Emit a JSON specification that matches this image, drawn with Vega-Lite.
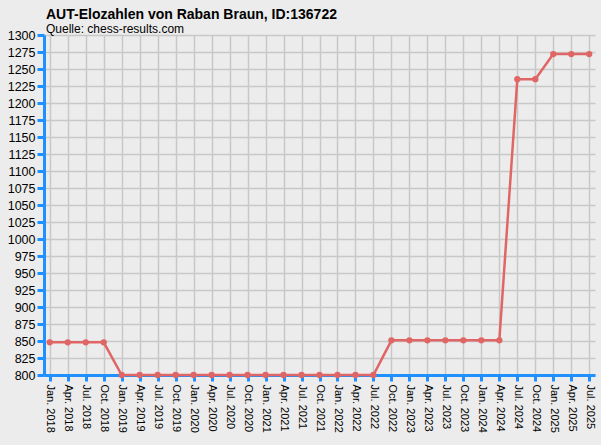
{
  "$schema": "https://vega.github.io/schema/vega-lite/v6.json",
  "autosize": {"type": "none"},
  "padding": {"left": 44, "top": 35, "right": 6, "bottom": 70},
  "width": 551,
  "height": 340,
  "background": "#ececec",
  "title": {
    "text": "AUT-Elozahlen von Raban Braun, ID:136722",
    "subtitle": "Quelle: chess-results.com",
    "anchor": "start",
    "frame": "group",
    "font": "Liberation Sans",
    "fontSize": 14,
    "fontWeight": "bold",
    "color": "#000000",
    "subtitleFont": "Liberation Sans",
    "subtitleFontSize": 12,
    "subtitleColor": "#000000",
    "subtitlePadding": 2,
    "offset": -6,
    "dx": 2
  },
  "data": {
    "values": [
      {"datum": "Jan. 2018", "elo": 848},
      {"datum": "Apr. 2018", "elo": 848},
      {"datum": "Jul. 2018", "elo": 848},
      {"datum": "Oct. 2018", "elo": 848},
      {"datum": "Jan. 2019", "elo": 800},
      {"datum": "Apr. 2019", "elo": 800},
      {"datum": "Jul. 2019", "elo": 800},
      {"datum": "Oct. 2019", "elo": 800},
      {"datum": "Jan. 2020", "elo": 800},
      {"datum": "Apr. 2020", "elo": 800},
      {"datum": "Jul. 2020", "elo": 800},
      {"datum": "Oct. 2020", "elo": 800},
      {"datum": "Jan. 2021", "elo": 800},
      {"datum": "Apr. 2021", "elo": 800},
      {"datum": "Jul. 2021", "elo": 800},
      {"datum": "Oct. 2021", "elo": 800},
      {"datum": "Jan. 2022", "elo": 800},
      {"datum": "Apr. 2022", "elo": 800},
      {"datum": "Jul. 2022", "elo": 800},
      {"datum": "Oct. 2022", "elo": 851},
      {"datum": "Jan. 2023", "elo": 851},
      {"datum": "Apr. 2023", "elo": 851},
      {"datum": "Jul. 2023", "elo": 851},
      {"datum": "Oct. 2023", "elo": 851},
      {"datum": "Jan. 2024", "elo": 851},
      {"datum": "Apr. 2024", "elo": 851},
      {"datum": "Jul. 2024", "elo": 1235},
      {"datum": "Oct. 2024", "elo": 1235},
      {"datum": "Jan. 2025", "elo": 1272},
      {"datum": "Apr. 2025", "elo": 1272},
      {"datum": "Jul. 2025", "elo": 1272}
    ]
  },
  "mark": {
    "type": "line",
    "color": "#e06666",
    "strokeWidth": 2.5,
    "point": {"filled": true, "color": "#e06666", "size": 40, "opacity": 1}
  },
  "encoding": {
    "x": {
      "field": "datum",
      "type": "ordinal",
      "sort": null,
      "scale": {"type": "point", "padding": 0.32},
      "axis": {
        "title": null,
        "labelAngle": 90,
        "labelAlign": "left",
        "labelBaseline": "middle",
        "labelFontSize": 11,
        "labelPadding": 3,
        "tickSize": 6
      }
    },
    "y": {
      "field": "elo",
      "type": "quantitative",
      "scale": {"domain": [800, 1300], "nice": false, "zero": false},
      "axis": {
        "title": null,
        "format": "d",
        "values": [800, 825, 850, 875, 900, 925, 950, 975, 1000, 1025, 1050, 1075, 1100, 1125, 1150, 1175, 1200, 1225, 1250, 1275, 1300],
        "labelFontSize": 12.5,
        "labelPadding": 2,
        "tickSize": 7
      }
    }
  },
  "config": {
    "view": {"stroke": null},
    "axis": {
      "labelFont": "Liberation Sans",
      "labelColor": "#000000",
      "domainColor": "#1e90ff",
      "domainWidth": 3,
      "tickColor": "#1e90ff",
      "tickWidth": 3,
      "grid": true,
      "gridColor": "#c8c8c8",
      "gridWidth": 1.5,
      "labelOverlap": false
    }
  }
}
